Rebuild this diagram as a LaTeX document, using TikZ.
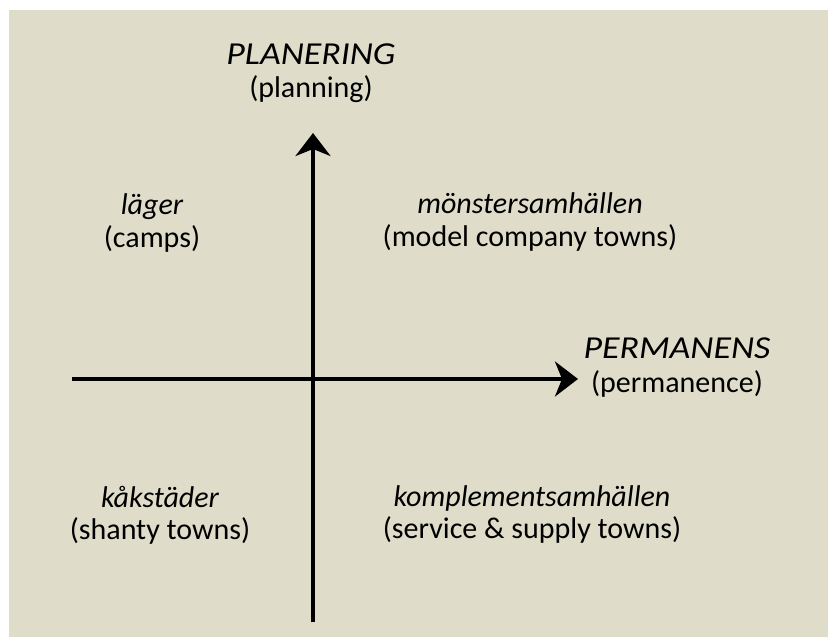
\documentclass[tikz,border=0pt]{standalone}
\usepackage{fontspec}
\setmainfont{Carlito}
\usetikzlibrary{arrows.meta}
\definecolor{PlanBeige}{HTML}{DFDDCA}

\begin{document}
\begin{tikzpicture}[x=1pt, y=-1pt,
    axis/.style={line width=4.5pt, -{Stealth[length=23pt, width=35pt, inset=7pt]}},
    axistitle/.style={anchor=base, inner sep=0pt, font=\fontsize{32}{33}\selectfont\itshape\addfontfeature{FakeStretch=1.12}},
    headword/.style={anchor=base, inner sep=0pt, font=\fontsize{30}{33}\selectfont\itshape},
    gloss/.style={anchor=base, inner sep=0pt, font=\fontsize{30}{33}\selectfont}]
                \useasboundingbox (0,0) rectangle (828,637);
                \fill[PlanBeige] (9,10) rectangle (828,637);

                % Axes
                \coordinate (vbot) at (313,622);
                \coordinate (vtop) at (313,133);
                \coordinate (hleft) at (72,379);
                \coordinate (hright) at (578,379);
                \draw[axis] (vbot) -- (vtop);
                \draw[axis] (hleft) -- (hright);

                % Axis titles
                \node[axistitle] (planering) at (311,64) {PLANERING};
                \node[gloss] (planning) at (311,97) {(planning)};
                \node[axistitle] (permanens) at (677,358) {PERMANENS};
                \node[gloss] (permanence) at (677,392) {(permanence)};

                % Quadrants
                \node[headword] (lager) at (152,214) {läger};
                \node[gloss] (camps) at (152,247) {(camps)};
                \node[headword] (monster) at (530,213) {mönstersamhällen};
                \node[gloss] (company) at (530,246) {(model company towns)};
                \node[headword] (kak) at (160,507) {kåkstäder};
                \node[gloss] (shanty) at (160,539) {(shanty towns)};
                \node[headword] (komplement) at (532,506) {komplementsamhällen};
                \node[gloss] (supply) at (532,538) {(service \& supply towns)};
            \end{tikzpicture}
\end{document}
